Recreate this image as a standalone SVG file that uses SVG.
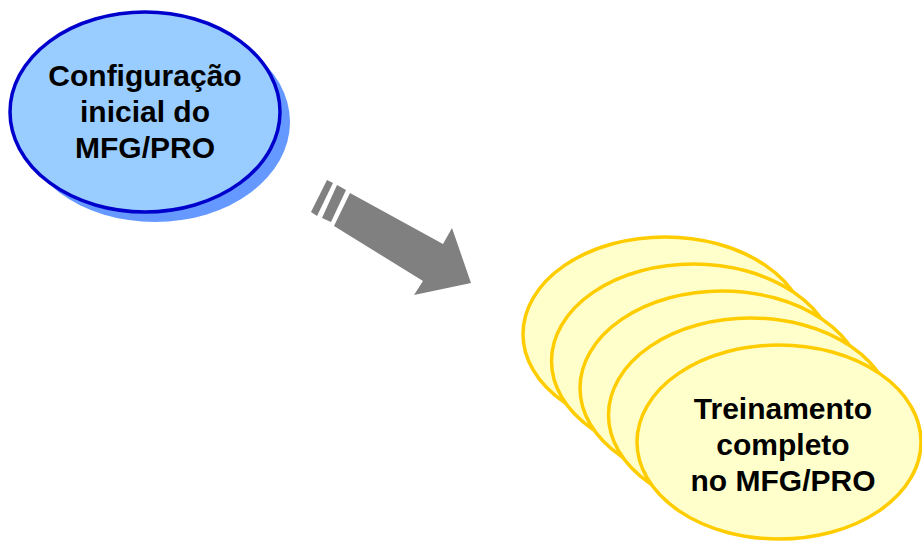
<svg xmlns="http://www.w3.org/2000/svg" width="922" height="542" viewBox="0 0 922 542">
<style>
.lbl{font-family:"Liberation Sans",Arial,sans-serif;font-weight:bold;font-size:30px;fill:#000;text-anchor:middle}
.y{fill:#ffffcc;stroke:#ffcc00;stroke-width:3.5}
</style>
<rect width="922" height="542" fill="#fff"/>
<g id="node-config">
<ellipse cx="155" cy="122" rx="135" ry="100" fill="#6699ff"/>
<ellipse cx="145" cy="112" rx="135" ry="100" fill="#99ccff" stroke="#0000cc" stroke-width="3.5"/>
<text class="lbl" x="145" y="86">Configuração</text>
<text class="lbl" x="145" y="122">inicial do</text>
<text class="lbl" x="145" y="158">MFG/PRO</text>
</g>
<g id="connectors" fill="#808080">
<polygon points="327,180 333,183 317,216 311,212"/>
<polygon points="337,185 346,190 331,222 322,218"/>
<polygon points="350,193 443,244 452,228 471,283 414,295 423,281 334,226"/>
</g>
<g id="node-treinamento">
<ellipse class="y" cx="665" cy="334" rx="142" ry="97"/>
<ellipse class="y" cx="693.5" cy="361" rx="142" ry="97"/>
<ellipse class="y" cx="722" cy="388" rx="142" ry="97"/>
<ellipse class="y" cx="750.5" cy="415" rx="142" ry="97"/>
<ellipse class="y" cx="779" cy="442" rx="142" ry="97"/>
<text class="lbl" x="783" y="419">Treinamento</text>
<text class="lbl" x="783" y="455">completo</text>
<text class="lbl" x="783" y="491">no MFG/PRO</text>
</g>
</svg>
